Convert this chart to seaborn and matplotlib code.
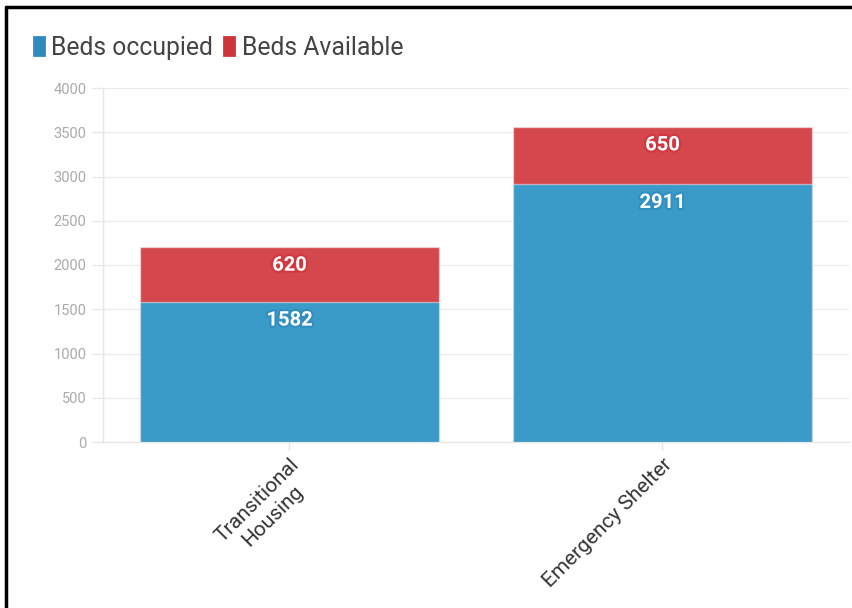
import matplotlib
matplotlib.use("Agg")
import matplotlib.pyplot as plt
import matplotlib.patheffects as pe
from matplotlib.patches import Patch
from matplotlib.lines import Line2D
import seaborn as sns
import pandas as pd

categories = ["Transitional\nHousing", "Emergency Shelter"]
beds_occupied = [1582, 2911]
beds_available = [620, 650]
series_names = ["Beds occupied", "Beds Available"]
y_ticks = [0, 500, 1000, 1500, 2000, 2500, 3000, 3500, 4000]

BLUE = "#3a9ac8"
RED = "#d4474d"
BLUE_LEG = "#2e8bc0"
RED_LEG = "#d0343b"

sns.set_theme(style="white")
plt.rcParams["font.family"] = ["Roboto", "DejaVu Sans"]

df = pd.DataFrame({
    "category": categories,
    "occupied": beds_occupied,
    "available": beds_available,
})
df["total"] = df["occupied"] + df["available"]

fig = plt.figure(figsize=(8.53, 6.08), dpi=100)
ax = fig.add_axes([103 / 853, 1 - 442 / 608, (849 - 103) / 853, (442 - 88) / 608])

sns.barplot(data=df, x="category", y="total", color=RED, saturation=1,
            width=0.8, ax=ax, edgecolor=(1, 1, 1, 0.45), linewidth=1, zorder=2)
sns.barplot(data=df, x="category", y="occupied", color=BLUE, saturation=1,
            width=0.8, ax=ax, edgecolor=(1, 1, 1, 0.45), linewidth=1, zorder=3)

ax.set_xlim(-0.5, 1.5)
ax.set_ylim(0, 4000)
ax.set_yticks(y_ticks)
ax.set_yticklabels([str(t) for t in y_ticks])
ax.set_xlabel("")
ax.set_ylabel("")

ax.yaxis.grid(True, color="#ececec", linewidth=1, zorder=0)
ax.xaxis.grid(False)
ax.set_axisbelow(True)
for s in ["top", "right"]:
    ax.spines[s].set_visible(False)
for s in ["left", "bottom"]:
    ax.spines[s].set_color("#e6e6e6")
    ax.spines[s].set_linewidth(1)

ax.tick_params(axis="y", which="major", left=True, length=8, width=1,
               color="#e6e6e6", labelsize=10.5, labelcolor="#aaaaaa", pad=4)
ax.tick_params(axis="x", which="major", bottom=True, length=6, width=1,
               color="#e6e6e6", labelsize=15, labelcolor="#333333", pad=3)
for lab in ax.get_xticklabels():
    lab.set_rotation(45)
    lab.set_ha("right")
    lab.set_rotation_mode("anchor")
    lab.set_multialignment("center")

# value labels
for i, (occ, av) in enumerate(zip(beds_occupied, beds_available)):
    for top, val, col in [(occ, occ, BLUE_LEG), (occ + av, av, RED_LEG)]:
        ax.annotate(str(val), xy=(i, top), xytext=(0, -13), textcoords="offset points",
                    ha="center", va="center", color="white", fontsize=14.5,
                    fontweight="bold", zorder=5,
                    path_effects=[pe.withStroke(linewidth=3, foreground=col, alpha=0.8)])

handles = [Patch(facecolor=BLUE_LEG, edgecolor=BLUE_LEG, linewidth=2, joinstyle="round"),
           Patch(facecolor=RED_LEG, edgecolor=RED_LEG, linewidth=2, joinstyle="round")]
leg = fig.legend(handles, series_names, loc="upper left", bbox_to_anchor=(34 / 853, 1 - 36 / 608),
                 frameon=False, fontsize=17.8, handlelength=0.4, handleheight=0.75,
                 handletextpad=0.3, columnspacing=0.45, ncol=2, borderaxespad=0,
                 borderpad=0)
for t in leg.get_texts():
    t.set_color("#444444")

# screenshot border (top and left)
fig.add_artist(Line2D([6 / 853, 1], [1 - 7 / 608, 1 - 7 / 608], transform=fig.transFigure,
                      color="black", linewidth=2.5))
fig.add_artist(Line2D([6.5 / 853, 6.5 / 853], [0, 1 - 7 / 608], transform=fig.transFigure,
                      color="black", linewidth=2.5))

fig.savefig("out.png", dpi=100, facecolor="white")
